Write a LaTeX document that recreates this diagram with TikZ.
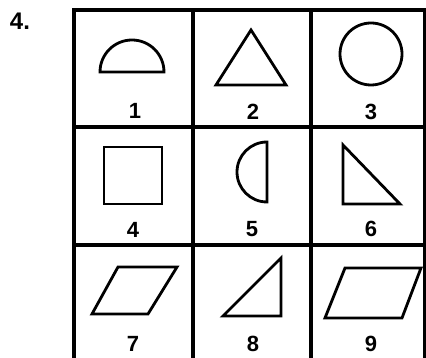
\documentclass[tikz,border=0pt]{standalone}
\usepackage{fontspec}
\setmainfont{Liberation Sans}
\usepackage{tikz}
\usetikzlibrary{positioning}
\newcommand{\cellnum}[2]{
  \node[num] (n#1) at #2 {#1};
}

\begin{document}
\begin{tikzpicture}[x=1pt,y=1pt,
  grid/.style={line width=3.2pt},
  fig/.style={line width=2.8pt,line join=miter},
  num/.style={inner sep=0pt,font=\fontsize{22}{25}\selectfont\bfseries}]
  \useasboundingbox (0,0) rectangle (426,358);
  \clip (0,0) rectangle (426,358);
  \node[inner sep=0pt,font=\fontsize{24}{27}\selectfont\bfseries] (title) at (20,337) {4.};
  % grid
  \draw[grid] (74,-4) rectangle (425,348);
  \draw[grid] (193,-4) -- (193,348);
  \draw[grid] (311,-4) -- (311,348);
  \draw[grid] (74,231) -- (425,231);
  \draw[grid] (74,113) -- (425,113);
  % top row
  \draw[fig] (100,286) arc[start angle=180,end angle=0,radius=32] -- cycle;
  \draw[fig] (216,273) -- (251,328) -- (286,273) -- cycle;
  \draw[fig] (371,304) circle[radius=31];
  % middle row
  \draw[fig] (104,154) rectangle (162,211);
  \draw[fig] (267,216) arc[start angle=90,end angle=270,radius=30] -- cycle;
  \draw[fig] (343,213) -- (343,154) -- (400,154) -- cycle;
  % bottom row
  \draw[fig] (92,44) -- (148,44) -- (177,91) -- (118,91) -- cycle;
  \draw[fig] (223,42) -- (281,42) -- (281,100) -- cycle;
  \draw[fig] (325,40) -- (402,40) -- (421,90) -- (345,90) -- cycle;
  % numbers
  \cellnum{1}{(135,247)}
  \cellnum{2}{(253,246)}
  \cellnum{3}{(371,246)}
  \cellnum{4}{(133,128)}
  \cellnum{5}{(252,129)}
  \cellnum{6}{(371,129)}
  \cellnum{7}{(133,14)}
  \cellnum{8}{(253,14)}
  \cellnum{9}{(371,14)}
\end{tikzpicture}
\end{document}
